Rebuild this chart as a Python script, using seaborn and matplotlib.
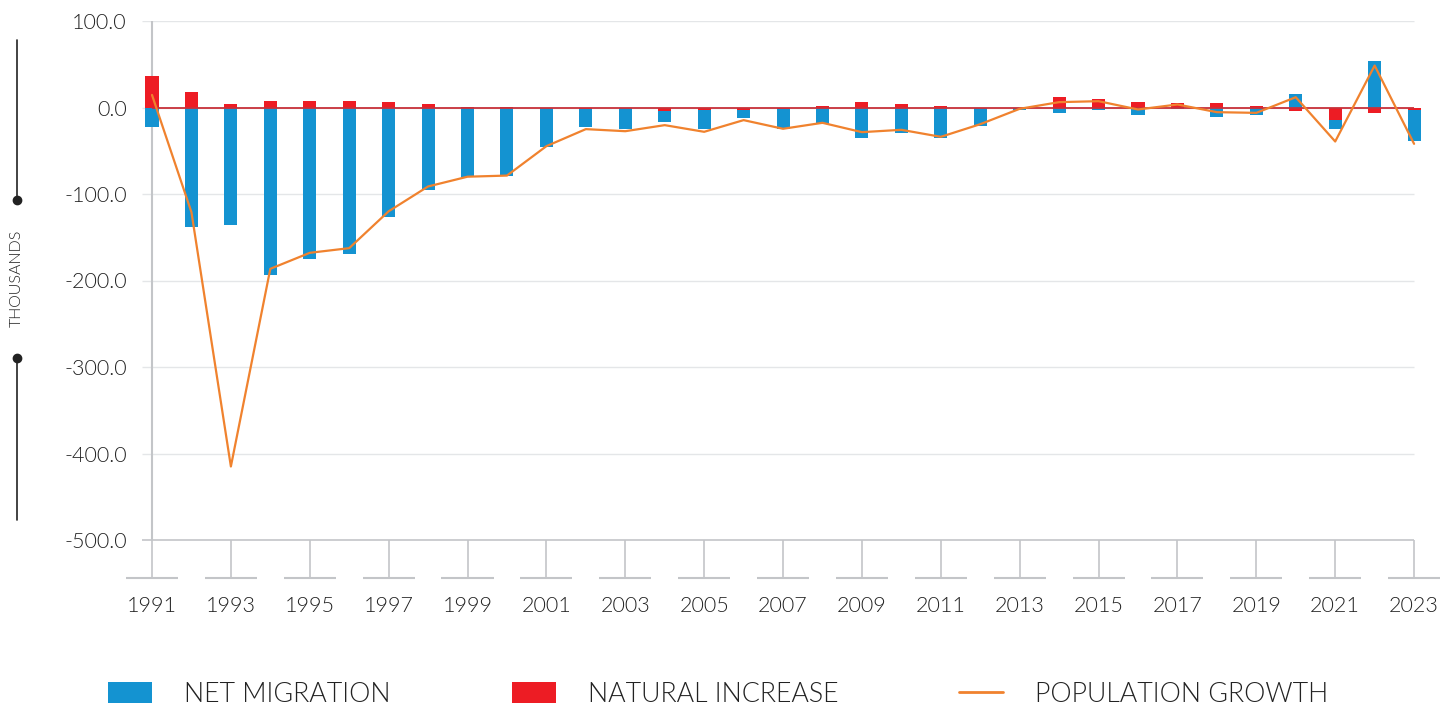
import numpy as np
import pandas as pd
import matplotlib
matplotlib.use("Agg")
import matplotlib.pyplot as plt
from matplotlib.lines import Line2D
from matplotlib.patches import Patch
import seaborn as sns

# values (thousands)
years = list(range(1991, 2024))
natural_increase = [36.3, 17.8, 4.3, 7.0, 7.3, 7.0, 6.2, 3.9, 0.3, 0.3,
                    -0.5, -2.3, -1.0, -3.9, -3.1, -2.7, -1.5, 2.3, 6.2, 4.6,
                    2.3, -0.5, -0.5, 11.6, 10.0, 6.2, 5.4, 5.0, 1.5, -3.9,
                    -14.3, -6.6, -2.7]
net_migration = [-22.3, -138.7, -135.6, -194.2, -175.7, -169.0, -126.4, -95.5, -80.1, -79.0,
                 -44.9, -20.1, -24.4, -12.3, -21.9, -8.9, -22.8, -18.5, -34.7, -29.7,
                 -35.8, -20.7, -2.0, -6.2, -3.1, -8.1, -2.3, -10.8, -8.1, 15.8,
                 -11.1, 54.3, -36.2]
population_growth = [14.5, -121.0, -415.0, -186.5, -168.0, -162.6, -120.0, -91.3, -80.0, -78.7,
                     -44.7, -25.0, -27.4, -20.4, -28.1, -14.6, -24.6, -17.7, -28.5, -25.8,
                     -33.9, -19.3, -1.5, 6.2, 7.3, -2.3, 3.5, -5.4, -6.2, 11.9,
                     -39.3, 48.5, -42.0]
y_ticks = [100, 0, -100, -200, -300, -400, -500]
x_ticks = list(range(1991, 2024, 2))
legend_labels = ["NET MIGRATION", "NATURAL INCREASE", "POPULATION GROWTH"]

BLUE = "#1493d1"
RED = "#ed1c24"
ORANGE = "#f0822e"
GRID = "#e4e6e8"
AXIS = "#c3c5c8"
TEXT = "#222222"

df = pd.DataFrame({"year": years, "natural": natural_increase,
                   "migration": net_migration, "growth": population_growth})
# diverging stack: natural increase first, migration stacked on it when same sign
df["mig_bottom"] = np.where(np.sign(df["natural"]) == np.sign(df["migration"]), df["natural"], 0.0)

sns.set_theme(style="white")
plt.rcParams["font.family"] = ["Lato", "DejaVu Sans"]
plt.rcParams["font.weight"] = 300
plt.rcParams["text.color"] = TEXT
plt.rcParams["xtick.color"] = TEXT
plt.rcParams["ytick.color"] = TEXT

fig = plt.figure(figsize=(14.56, 7.09), dpi=100)
px = 1 / 1456
py = 1 / 709
x_left = 1991 - 10 / 39.44
x_right = 2023.4
ax = fig.add_axes([142 * px, (709 - 540) * py,
                   (x_right - x_left) * 39.44 * px, 519 * py])

# gridlines and axis
ax.hlines([v for v in y_ticks if v != -500], x_left, 2023, color=GRID, lw=1, zorder=0)
ax.hlines(-500, x_left, 2023, color=AXIS, lw=1.2, zorder=0, clip_on=False)
ax.vlines(1991, -500, 100, color=AXIS, lw=1.5, zorder=1)

sns.barplot(data=df, x="year", y="natural", native_scale=True, width=0.33,
            color=RED, saturation=1, edgecolor="none", linewidth=0, ax=ax, zorder=2)
sns.barplot(data=df, x="year", y="migration", native_scale=True, width=0.33,
            bottom=df["mig_bottom"].to_numpy(), color=BLUE, saturation=1,
            edgecolor="none", linewidth=0, ax=ax, zorder=2)
for p in ax.patches:
    p.set_clip_on(False)

ax.hlines(0, 1991, 2023, color="#c8313a", lw=1.3, zorder=3)
sns.lineplot(data=df, x="year", y="growth", color=ORANGE, lw=1.6, ax=ax, zorder=4)

ax.set_xlim(x_left, x_right)
ax.set_ylim(-500, 100)
for s in ax.spines.values():
    s.set_visible(False)
ax.set_xlabel("")
ax.set_ylabel("")
ax.set_yticks(y_ticks)
ax.set_yticklabels([f"{v:.1f}" for v in y_ticks], fontsize=15.5, color=TEXT)
ax.tick_params(axis="y", left=False, length=0, pad=11)
ax.set_xticks(x_ticks)
ax.set_xticklabels([str(y) for y in x_ticks], fontsize=15.5, color=TEXT)
ax.tick_params(axis="x", bottom=True, length=27.4, width=1.2, color=AXIS,
               direction="out", pad=13)

# short baselines under each labelled year
seg_y = -500 - 38 / 0.865
for yr in x_ticks:
    ax.plot([yr - 0.66, yr + 0.66], [seg_y, seg_y], color=AXIS, lw=1.5,
            clip_on=False, solid_capstyle="butt")

# y label with decorative lines
fig.text(17 * px, 1 - 278 * py, "THOUSANDS", rotation=90, ha="center", va="center",
         fontsize=11.5, color=TEXT)
fig.add_artist(Line2D([17 * px, 17 * px], [1 - 40 * py, 1 - 200 * py], color=TEXT, lw=1.2))
fig.add_artist(Line2D([17 * px, 17 * px], [1 - 358 * py, 1 - 520 * py], color=TEXT, lw=1.2))
fig.add_artist(Line2D([17 * px], [1 - 200 * py], marker="o", ms=6, color=TEXT))
fig.add_artist(Line2D([17 * px], [1 - 358 * py], marker="o", ms=6, color=TEXT))

handles = [Patch(facecolor=BLUE, edgecolor="none"),
           Patch(facecolor=RED, edgecolor="none"),
           Line2D([0], [0], color=ORANGE, lw=2)]
fig.legend(handles, legend_labels, loc="center left", bbox_to_anchor=(108 * px, 1 - 694 * py),
           ncol=3, frameon=False, fontsize=19.3, handlelength=1.65, handleheight=0.82,
           handletextpad=1.2, columnspacing=4.5, borderpad=0, borderaxespad=0,
           labelcolor=TEXT)

fig.savefig("out.png", dpi=100)
